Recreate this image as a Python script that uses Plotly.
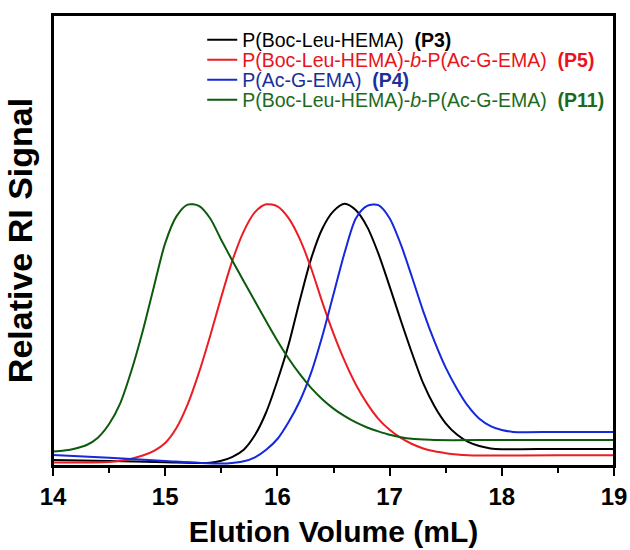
import plotly.graph_objects as go

# ---- data (elution volume in mL, normalized RI signal) ----
x_p3 = [14.0, 14.5, 15.0, 15.3, 15.4, 15.5, 15.6, 15.7, 15.8, 15.9, 16.0, 16.1, 16.2, 16.3, 16.4,
        16.5, 16.6, 16.7, 16.8, 16.9, 17.0, 17.1, 17.2, 17.3, 17.4, 17.5, 17.6, 17.7, 17.8, 17.9,
        18.0, 18.5, 19.0]
y_p3 = [0.023, 0.019, 0.014, 0.011, 0.012, 0.020, 0.035, 0.062, 0.118, 0.205, 0.325, 0.463, 0.632,
        0.790, 0.905, 0.972, 1.000, 0.975, 0.912, 0.810, 0.685, 0.555, 0.430, 0.315, 0.228, 0.163,
        0.120, 0.092, 0.076, 0.067, 0.064, 0.065, 0.065]

x_p5 = [14.0, 14.5, 14.6, 14.7, 14.8, 14.9, 15.0, 15.1, 15.2, 15.3, 15.4, 15.5, 15.6, 15.7, 15.8,
        15.9, 16.0, 16.1, 16.2, 16.3, 16.4, 16.5, 16.6, 16.7, 16.8, 16.9, 17.0, 17.1, 17.2, 17.3,
        17.4, 17.5, 17.6, 17.7, 17.8, 18.5, 19.0]
y_p5 = [0.013, 0.015, 0.020, 0.028, 0.040, 0.058, 0.088, 0.145, 0.235, 0.355, 0.495, 0.645, 0.785,
        0.895, 0.968, 0.998, 0.990, 0.945, 0.865, 0.755, 0.625, 0.505, 0.400, 0.310, 0.238, 0.180,
        0.138, 0.107, 0.084, 0.067, 0.056, 0.049, 0.044, 0.041, 0.040, 0.041, 0.041]

x_p4 = [14.0, 14.5, 15.0, 15.3, 15.55, 15.7, 15.8, 15.9, 16.0, 16.1, 16.2, 16.3, 16.4, 16.5, 16.6,
        16.7, 16.8, 16.9, 17.0, 17.1, 17.2, 17.3, 17.4, 17.5, 17.6, 17.7, 17.8, 17.9, 18.0, 18.1,
        18.5, 19.0]
y_p4 = [0.042, 0.031, 0.019, 0.012, 0.010, 0.018, 0.033, 0.062, 0.103, 0.168, 0.248, 0.355, 0.495,
        0.655, 0.815, 0.945, 0.992, 0.995, 0.945, 0.845, 0.720, 0.590, 0.475, 0.375, 0.295, 0.228,
        0.180, 0.152, 0.137, 0.130, 0.130, 0.130]

x_p11 = [14.0, 14.1, 14.2, 14.3, 14.4, 14.5, 14.6, 14.7, 14.8, 14.9, 15.0, 15.1, 15.2, 15.3, 15.4,
         15.5, 15.6, 15.7, 15.8, 15.9, 16.0, 16.1, 16.2, 16.3, 16.4, 16.5, 16.6, 16.7, 16.8, 16.9,
         17.0, 17.1, 17.2, 17.3, 17.4, 18.0, 19.0]
y_p11 = [0.055, 0.059, 0.067, 0.080, 0.108, 0.160, 0.240, 0.365, 0.515, 0.685, 0.850, 0.952, 0.997,
         0.992, 0.945, 0.862, 0.782, 0.705, 0.628, 0.552, 0.478, 0.410, 0.350, 0.298, 0.255, 0.219,
         0.190, 0.166, 0.147, 0.132, 0.119, 0.110, 0.104, 0.101, 0.099, 0.099, 0.099]

names = [
    "P(Boc-Leu-HEMA)\u00a0\u00a0<b>(P3)</b>",
    "P(Boc-Leu-HEMA)-<i>b</i>-P(Ac-G-EMA)\u00a0\u00a0<b>(P5)</b>",
    "P(Ac-G-EMA)\u00a0\u00a0<b>(P4)</b>",
    "P(Boc-Leu-HEMA)-<i>b</i>-P(Ac-G-EMA)\u00a0\u00a0<b>(P11)</b>",
]
line_colors = ["#000000", "#ec1c24", "#1428dc", "#0c5a0c"]
text_colors = ["#000000", "#e8141c", "#1a2f98", "#1d6a1d"]
legend_ids = ["legend", "legend2", "legend3", "legend4"]
x_ticks = [14, 15, 16, 17, 18, 19]

FONT = "Liberation Sans, Arial, sans-serif"

fig = go.Figure()
series = [(x_p3, y_p3), (x_p5, y_p5), (x_p4, y_p4), (x_p11, y_p11)]
for (xs, ys), nm, col, lg in zip(series, names, line_colors, legend_ids):
    fig.add_trace(go.Scatter(x=xs, y=ys, mode="lines", name=nm, legend=lg,
                             line=dict(color=col, width=2, shape="spline", smoothing=0.8)))

row_y = [0.9446, 0.9002, 0.8559, 0.8115]
legend_cfg = {}
for lg, yy, tc in zip(legend_ids, row_y, text_colors):
    legend_cfg[lg] = dict(x=0.266, y=yy, xanchor="left", yanchor="middle",
                          bgcolor="rgba(0,0,0,0)", borderwidth=0,
                          font=dict(family=FONT, size=19.5, color=tc),
                          itemwidth=30)

fig.update_layout(
    width=630, height=550,
    margin=dict(l=53, r=16, t=15, b=84),
    paper_bgcolor="white", plot_bgcolor="white",
    showlegend=True,
    font=dict(family=FONT, color="black"),
    xaxis=dict(range=[14, 19], tickvals=x_ticks, ticks="outside", ticklen=8, tickwidth=2,
               tickcolor="black", automargin=False,
               minor=dict(dtick=0.5, ticks="outside", ticklen=5, tickwidth=2, tickcolor="black"),
               showline=True, linewidth=2, linecolor="black", mirror=True,
               showgrid=False, zeroline=False,
               tickfont=dict(family=FONT, size=24, color="black", weight="bold"),
               title=dict(text="Elution Volume (mL)", standoff=12,
                          font=dict(family=FONT, size=30, color="black", weight="bold"))),
    yaxis=dict(range=[0, 1.72], showticklabels=False, ticks="", automargin=False,
               showline=True, linewidth=2, linecolor="black", mirror=True,
               showgrid=False, zeroline=False,
               title=dict(text="Relative RI Signal", standoff=8,
                          font=dict(family=FONT, size=34, color="black", weight="bold"))),
    shapes=[dict(type="rect", xref="paper", yref="paper", x0=0, x1=1, y0=0, y1=1,
                 line=dict(color="black", width=2), fillcolor="rgba(0,0,0,0)", layer="above")],
    **legend_cfg,
)

fig.write_html("out.html")
